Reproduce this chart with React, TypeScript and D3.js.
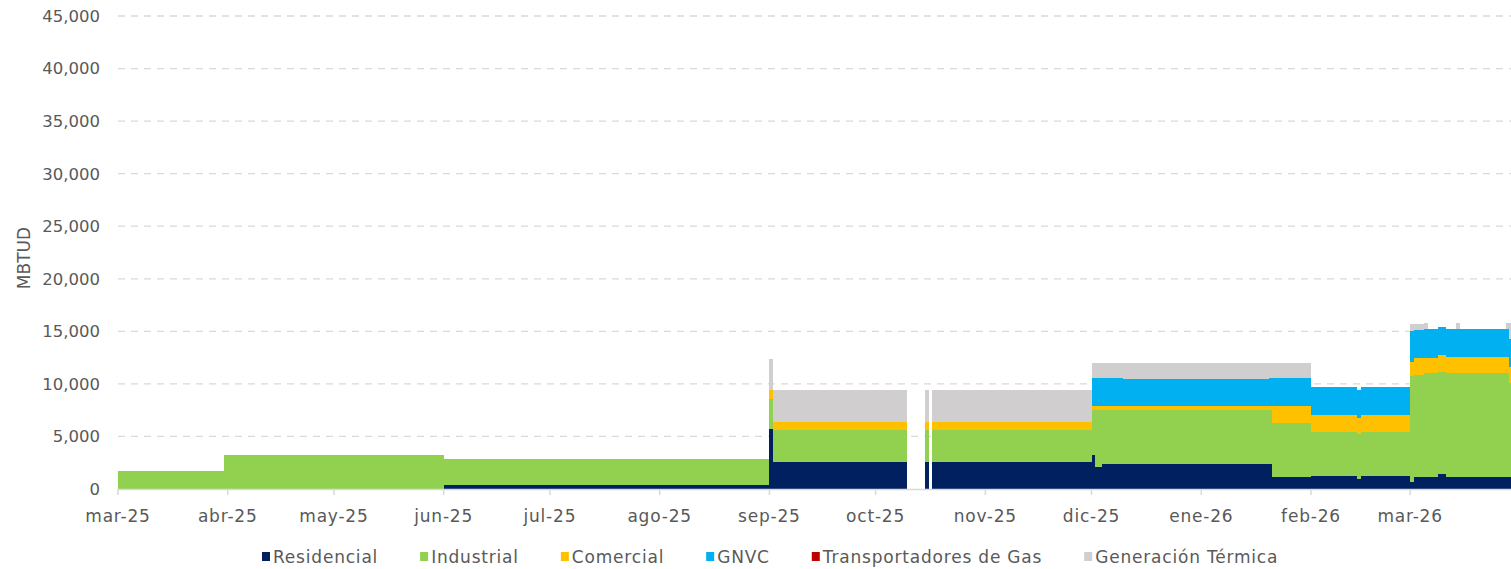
import React, { useEffect, useRef } from "react";
import * as d3 from "d3";

// periods (start dates); a period runs until the next start
const periodStart = [
  "2025-03-01", "2025-03-31", "2025-06-01", "2025-09-01", "2025-09-02",
  "2025-10-10", "2025-10-15", "2025-10-16", "2025-10-17", "2025-12-01",
  "2025-12-02", "2025-12-04", "2025-12-10", "2026-01-20", "2026-01-21",
  "2026-02-01", "2026-02-14", "2026-02-15", "2026-03-01", "2026-03-02",
  "2026-03-05", "2026-03-06", "2026-03-09", "2026-03-11", "2026-03-14",
  "2026-03-15", "2026-03-28", "2026-03-29",
];
const lastDay = "2026-03-30";

// null = no data (gap)
const residencial = [0, 0, 400, 5680, 2600, null, 2600, null, 2600, 3260, 2060, 2350, 2350, 2350, 1170, 1200, 980, 1200, 700, 1110, 1170, 1170, 1400, 1170, 1170, 1170, 1170, 1170];
const industrial = [1680, 3230, 2450, 2870, 3050, null, 3050, null, 3050, 4250, 5450, 5160, 5160, 5160, 5130, 4250, 4250, 4250, 10070, 9720, 9830, 9830, 9750, 9830, 9830, 9830, 9830, 8880];
const comercial = [0, 0, 0, 860, 770, null, 770, null, 770, 380, 380, 380, 380, 380, 1590, 1550, 1550, 1550, 1270, 1590, 1480, 1480, 1590, 1520, 1520, 1520, 1520, 1570];
const gnvc = [0, 0, 0, 0, 0, null, 0, null, 0, 2660, 2660, 2660, 2560, 2660, 2660, 2670, 2670, 2670, 3000, 2690, 2730, 2730, 2630, 2690, 2690, 2690, 2690, 2640];
const transportadores = [0, 0, 0, 0, 0, null, 0, null, 0, 0, 0, 0, 0, 0, 0, 0, 0, 0, 0, 0, 0, 0, 0, 0, 0, 0, 0, 0];
const generacion = [0, 0, 0, 2930, 2990, null, 2990, null, 2990, 1480, 1480, 1480, 1500, 1480, 1480, 0, 0, 0, 640, 570, 600, 0, 0, 0, 600, 0, 600, 1490];

const seriesNames = ["Residencial", "Industrial", "Comercial", "GNVC", "Transportadores de Gas", "Generación Térmica"];
const seriesValues = [residencial, industrial, comercial, gnvc, transportadores, generacion];
const colors = ["#002060", "#92D050", "#FFC000", "#00B0F0", "#C00000", "#D0CECE"];

const monthLabels = ["mar-25", "abr-25", "may-25", "jun-25", "jul-25", "ago-25", "sep-25", "oct-25", "nov-25", "dic-25", "ene-26", "feb-26", "mar-26"];
const yTicks = [0, 5000, 10000, 15000, 20000, 25000, 30000, 35000, 40000, 45000];

const W = 1511;
const H = 569;
const FONT = "'DejaVu Sans', sans-serif";

const App = () => {
  const svgRef = useRef<SVGSVGElement>(null);

  useEffect(() => {
    const svg = d3.select(svgRef.current);
    svg.selectAll("*").remove();

    const parse = d3.utcParse("%Y-%m-%d");
    const starts = periodStart.map((s) => parse(s) as Date);
    const end = parse(lastDay) as Date;

    const x = d3.scaleUtc().domain([starts[0], end]).range([118, 1512.8]);
    const y = d3.scaleLinear().domain([0, 45000]).range([489, 16]);

    // gridlines
    svg.append("g")
      .selectAll("line")
      .data(yTicks.filter((t) => t > 0))
      .enter()
      .append("line")
      .attr("x1", 118)
      .attr("x2", W)
      .attr("y1", (d) => y(d))
      .attr("y2", (d) => y(d))
      .attr("stroke", "#d9d9d9")
      .attr("stroke-width", 1.3)
      .attr("stroke-dasharray", "7,6");

    // rows for stacking
    const rows: any[] = [];
    starts.forEach((s, i) => {
      if (residencial[i] === null) return;
      const row: any = { start: s, end: i + 1 < starts.length ? starts[i + 1] : end };
      seriesNames.forEach((k, j) => (row[k] = seriesValues[j][i] ?? 0));
      rows.push(row);
    });

    const stacked = d3.stack().keys(seriesNames)(rows);

    svg.append("g")
      .selectAll("g")
      .data(stacked)
      .enter()
      .append("g")
      .attr("fill", (_, i) => colors[i])
      .selectAll("rect")
      .data((d) => d.filter((p) => p[1] - p[0] > 0))
      .enter()
      .append("rect")
      .attr("x", (d: any) => x(d.data.start))
      .attr("width", (d: any) => x(d.data.end) - x(d.data.start))
      .attr("y", (d) => y(d[1]))
      .attr("height", (d) => y(d[0]) - y(d[1]))
      .attr("shape-rendering", "crispEdges");

    // x axis
    const months = d3.utcMonth.range(starts[0], end);
    svg.append("line")
      .attr("x1", 118)
      .attr("x2", W)
      .attr("y1", y(0) + 0.5)
      .attr("y2", y(0) + 0.5)
      .attr("stroke", "#d9d9d9")
      .attr("stroke-width", 1.5);

    const xt = svg.append("g");
    xt.selectAll("line")
      .data(months)
      .enter()
      .append("line")
      .attr("x1", (d) => x(d))
      .attr("x2", (d) => x(d))
      .attr("y1", y(0))
      .attr("y2", y(0) + 6)
      .attr("stroke", "#d9d9d9")
      .attr("stroke-width", 1.5);
    xt.selectAll("text")
      .data(months)
      .enter()
      .append("text")
      .attr("x", (d) => x(d))
      .attr("y", 522)
      .attr("text-anchor", "middle")
      .attr("font-family", FONT)
      .attr("font-size", 17)
      .attr("letter-spacing", 0.8)
      .attr("fill", "#595959")
      .text((_, i) => monthLabels[i]);

    // y axis labels
    svg.append("g")
      .selectAll("text")
      .data(yTicks)
      .enter()
      .append("text")
      .attr("x", 100)
      .attr("y", (d) => y(d))
      .attr("dy", "0.36em")
      .attr("text-anchor", "end")
      .attr("font-family", FONT)
      .attr("font-size", 16.5)
      .attr("fill", "#595959")
      .text((d) => d3.format(",")(d));

    svg.append("text")
      .attr("transform", "translate(30,258) rotate(-90)")
      .attr("text-anchor", "middle")
      .attr("font-family", FONT)
      .attr("font-size", 17)
      .attr("fill", "#595959")
      .text("MBTUD");

    // legend
    const legend = svg.append("g");
    let lx = 262;
    seriesNames.forEach((name, i) => {
      legend.append("rect")
        .attr("x", lx)
        .attr("y", 552)
        .attr("width", 8)
        .attr("height", 9)
        .attr("fill", colors[i]);
      const t = legend.append("text")
        .attr("x", lx + 11)
        .attr("y", 563)
        .attr("font-family", FONT)
        .attr("font-size", 17)
        .attr("letter-spacing", 0.8)
        .attr("fill", "#595959")
        .text(name);
      const tw = (t.node() as SVGTextElement).getComputedTextLength();
      lx += 11 + tw + 42;
    });
  }, []);

  return (
    <svg
      ref={svgRef}
      width={W}
      height={H}
      style={{ position: "absolute", left: 0, top: 0, background: "#fff" }}
    ></svg>
  );
};

export default App;
